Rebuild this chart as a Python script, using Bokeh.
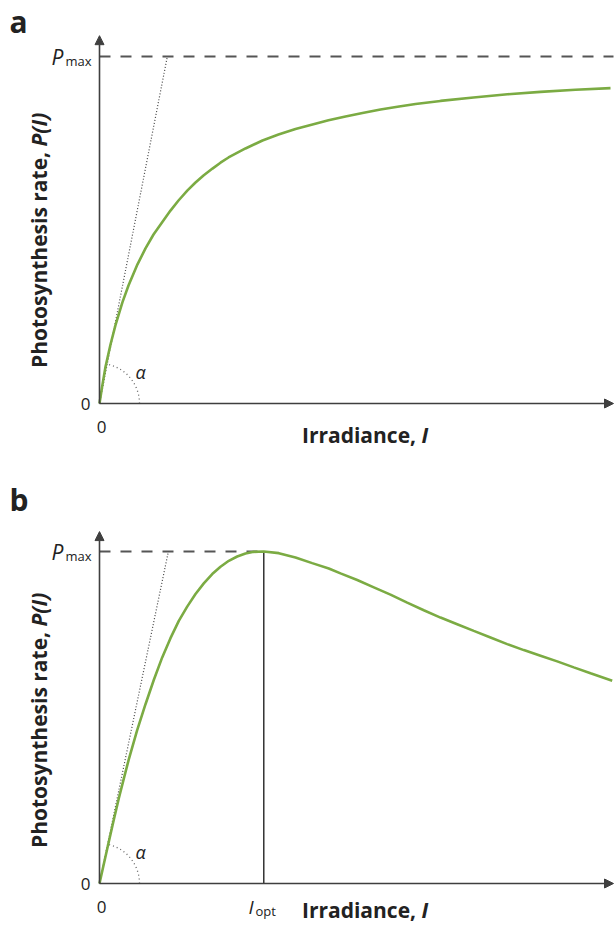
import math
from bokeh.plotting import figure
from bokeh.models import Range1d, Arrow, NormalHead
from bokeh.layouts import column
from bokeh.embed import file_html
from bokeh.resources import INLINE
from bokeh.core.properties import value

# ---------------- data ----------------
# panel a: saturating P-I curve (irradiance in arbitrary units, P relative to Pmax)
irr_a = [0.0, 0.053, 0.117, 0.214, 0.311, 0.447, 0.564, 0.739, 0.895, 1.051, 1.226,
         1.381, 1.537, 1.712, 1.868, 2.023, 2.198, 2.354, 2.510, 2.840, 3.171, 3.482,
         3.813, 4.144, 4.455, 4.786, 5.117, 5.467, 5.798, 6.148, 6.634, 7.276, 7.938,
         8.580, 9.261, 9.942]
rate_a = [0.0, 0.050, 0.106, 0.170, 0.226, 0.292, 0.340, 0.401, 0.447, 0.487, 0.524,
          0.556, 0.585, 0.614, 0.637, 0.657, 0.677, 0.694, 0.709, 0.735, 0.758, 0.775,
          0.791, 0.804, 0.816, 0.827, 0.837, 0.847, 0.855, 0.863, 0.872, 0.882, 0.891,
          0.898, 0.904, 0.909]
# panel b: curve with photoinhibition beyond I_opt
irr_b = [0.0, 0.084, 0.181, 0.278, 0.375, 0.473, 0.570, 0.733, 0.895, 1.056, 1.220,
         1.381, 1.543, 1.706, 1.868, 2.029, 2.193, 2.354, 2.516, 2.679, 2.840, 3.002,
         3.196, 3.488, 3.813, 4.138, 4.461, 4.689, 5.014, 5.337, 5.661, 5.986, 6.309,
         6.634, 6.959, 7.282, 7.607, 7.932, 8.255, 8.580, 8.905, 9.228, 9.553, 9.975]
rate_b = [0.0, 0.059, 0.126, 0.192, 0.256, 0.316, 0.374, 0.462, 0.540, 0.613, 0.681,
          0.739, 0.791, 0.834, 0.872, 0.904, 0.932, 0.954, 0.972, 0.985, 0.994, 0.999,
          1.000, 0.995, 0.982, 0.965, 0.949, 0.934, 0.914, 0.892, 0.870, 0.846, 0.823,
          0.801, 0.781, 0.761, 0.741, 0.721, 0.703, 0.686, 0.669, 0.651, 0.633, 0.611]
p_max = 1.0
i_opt = 3.196
tangent_a = [0.0, 1.32]   # irradiance where the initial-slope line reaches Pmax
tangent_b = [0.0, 1.34]
x_axis_end = 10.0
y_axis_end = 1.06

# ---------------- layout helpers ----------------
W = 616
PX_PER_I = 51.4
ORIGIN_X = 99          # page x of origin
FONT = value("Open Sans")
AX = "#3f3f3f"
TXT = "#222222"
GREEN = "#7bab43"


def px_i(x):
    return (x - ORIGIN_X) / PX_PER_I


def build(height, top, origin_y, ppp, irr, rate, tang, letter, inhib):
    def py(y):
        return (origin_y - y) / ppp

    p = figure(width=W, height=height, output_backend="svg", toolbar_location=None,
               x_range=Range1d(px_i(0), px_i(W)),
               y_range=Range1d(py(top + height), py(top)),
               x_axis_location=None, y_axis_location=None, min_border=0,
               background_fill_color="white", border_fill_color="white")
    p.outline_line_color = None
    p.xgrid.visible = False
    p.ygrid.visible = False

    pmax_y = origin_y - ppp * p_max   # page y of the Pmax level

    # Pmax dashed line
    x_end_dash = i_opt if inhib else px_i(613)
    p.line([0, x_end_dash], [p_max, p_max], line_color="#555555", line_width=2,
           line_dash="11 10")
    # initial slope (dotted)
    p.line(tang, [0, p_max], line_color="#444444", line_width=1.2, line_dash="1 2")
    # alpha arc
    ang = math.atan2(ppp * p_max, PX_PER_I * tang[1])
    p.arc(x=[0], y=[0], radius=40, radius_units="screen", start_angle=0,
          end_angle=ang, line_color="#666666", line_width=1.3, line_dash="1 3")
    if inhib:
        p.line([i_opt, i_opt], [0, p_max], line_color="#333333", line_width=1.5)
    # curve
    p.line(irr, rate, line_color=GREEN, line_width=2.6)

    # axes with arrows
    p.add_layout(Arrow(end=NormalHead(size=9, fill_color=AX, line_color=AX),
                       x_start=0, y_start=0, x_end=0, y_end=y_axis_end,
                       line_color=AX, line_width=1.6))
    p.add_layout(Arrow(end=NormalHead(size=9, fill_color=AX, line_color=AX),
                       x_start=0, y_start=0, x_end=x_axis_end, y_end=0,
                       line_color=AX, line_width=1.6))

    d = origin_y - 403  # vertical shift relative to panel a

    def label(xp, yp, txt, size, style="normal", align="left", angle=0.0):
        p.text(x=[px_i(xp)], y=[py(yp)], text=[txt], text_font=FONT,
               text_font_size=size, text_font_style=style, text_color=TXT,
               text_align=align, text_baseline="middle", angle=angle)

    # panel letter
    label(9, top + (21 if not inhib else 29), letter, "30px", "bold")
    # Pmax label
    label(51, pmax_y, "P", "21px", "italic")
    label(65, pmax_y + 4, "max", "13px")
    # zero ticks
    label(85, origin_y, "0", "17px", align="center")
    label(101, origin_y + 23, "0", "17px", align="center")
    # alpha
    label(140, origin_y - 32, "α", "18px", "italic", align="center")
    # x label
    xl = origin_y + (31.5 if not inhib else 26.5)
    label(421, xl, "Irradiance, ", "21px", "bold", align="right")
    label(421, xl, "I", "21px", "bold italic", align="left")
    # y label (rotated)
    split = 146 + d
    label(38, split, "Photosynthesis rate, ", "21px", "bold", align="right",
          angle=math.pi / 2)
    label(38, split, "P(I)", "21px", "bold italic", align="left", angle=math.pi / 2)
    if inhib:
        label(248, origin_y + 23, "I", "19px", "italic")
        label(255, origin_y + 27, "opt", "13px")
    return p


pa = build(470, 0, 403, 347.0, irr_a, rate_a, tangent_a, "a", False)
pb = build(457, 470, 883, 332.0, irr_b, rate_b, tangent_b, "b", True)

layout = column(pa, pb, spacing=0)
open("out.html", "w").write(file_html(layout, INLINE))
